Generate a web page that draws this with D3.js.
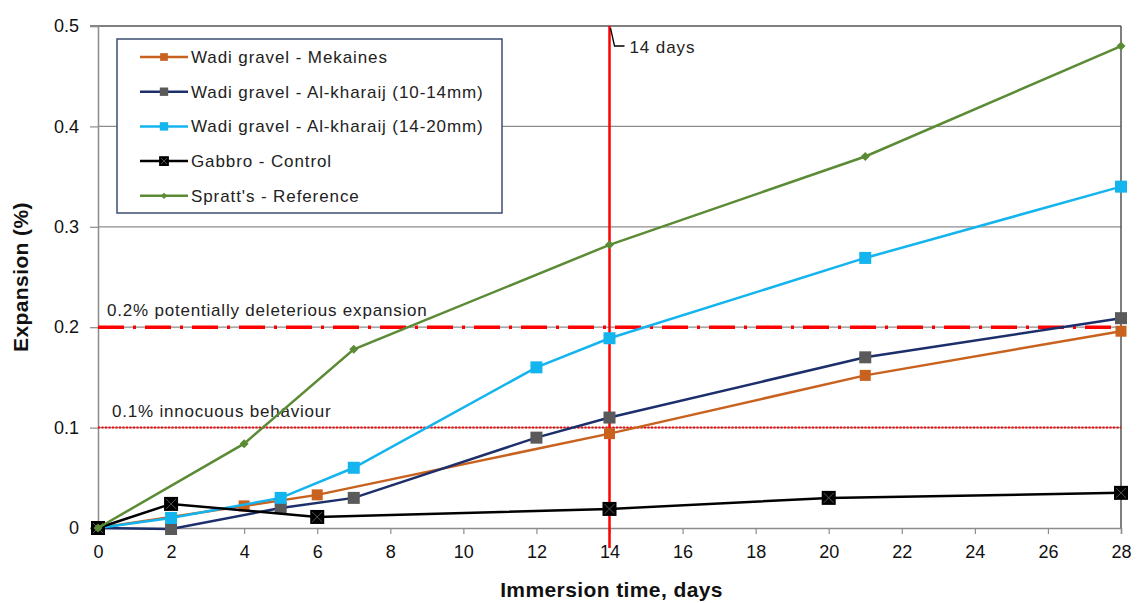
<!DOCTYPE html>
<html>
<head>
<meta charset="utf-8">
<script src="https://cdn.jsdelivr.net/npm/d3@7"></script>
<style>
  body { margin: 0; background: #fff; }
  svg { display: block; font-family: "Liberation Sans", Arial, sans-serif; }
</style>
</head>
<body>
<svg width="1139" height="603"></svg>
<script>
// data
const mekainesDays = [0, 4, 6, 14, 21, 28];
const mekainesVals = [0, 0.022, 0.033, 0.094, 0.152, 0.196];

const kharaij1014Days = [0, 2, 5, 7, 12, 14, 21, 28];
const kharaij1014Vals = [0, -0.001, 0.02, 0.03, 0.09, 0.11, 0.17, 0.209];

const kharaij1420Days = [0, 2, 5, 7, 12, 14, 21, 28];
const kharaij1420Vals = [0, 0.01, 0.03, 0.06, 0.16, 0.189, 0.269, 0.34];

const gabbroDays = [0, 2, 6, 14, 20, 28];
const gabbroVals = [0, 0.024, 0.011, 0.019, 0.03, 0.035];

const sprattDays = [0, 4, 7, 14, 21, 28];
const sprattVals = [0, 0.084, 0.178, 0.282, 0.37, 0.48];

const xTicks = d3.range(0, 29, 2);
const yTicks = [0, 0.1, 0.2, 0.3, 0.4, 0.5];

const series = [
  { name: "Wadi gravel - Mekaines", days: mekainesDays, vals: mekainesVals, line: "#c9621f", marker: "#c9621f", shape: "square", size: 11 },
  { name: "Wadi gravel - Al-kharaij (10-14mm)", days: kharaij1014Days, vals: kharaij1014Vals, line: "#1c2f6b", marker: "#5a5a5a", shape: "square", size: 12 },
  { name: "Wadi gravel - Al-kharaij (14-20mm)", days: kharaij1420Days, vals: kharaij1420Vals, line: "#14b4ee", marker: "#14b4ee", shape: "square", size: 12 },
  { name: "Gabbro - Control", days: gabbroDays, vals: gabbroVals, line: "#000000", marker: "#000000", shape: "squarex", size: 14 },
  { name: "Spratt's - Reference", days: sprattDays, vals: sprattVals, line: "#5b8b35", marker: "#5b8b35", shape: "diamond", size: 9 }
];

const svg = d3.select("svg");
const margin = { left: 98, right: 18, top: 26, bottom: 75 };
const W = 1139, H = 603;

const x = d3.scaleLinear().domain([0, 28]).range([margin.left, W - margin.right]);
const y = d3.scaleLinear().domain([0, 0.5]).range([H - margin.bottom, margin.top]);

// gridlines
svg.append("g").selectAll("line")
  .data(yTicks.filter(v => v > 0 && v < 0.5))
  .enter().append("line")
  .attr("x1", x(0)).attr("x2", x(28))
  .attr("y1", d => y(d)).attr("y2", d => y(d))
  .attr("stroke", "#8c8c8c").attr("stroke-width", 1.2);

// frame top + right
svg.append("line").attr("x1", x(0) - 8).attr("x2", x(28)).attr("y1", y(0.5)).attr("y2", y(0.5))
  .attr("stroke", "#555").attr("stroke-width", 1.5);
svg.append("line").attr("x1", x(28)).attr("x2", x(28)).attr("y1", y(0.5)).attr("y2", y(0))
  .attr("stroke", "#555").attr("stroke-width", 1.5);

// axes
const xAxis = svg.append("g").attr("transform", `translate(0,${y(0)})`)
  .call(d3.axisBottom(x).tickValues(xTicks).tickSize(6).tickPadding(11).tickFormat(d3.format("d")));
const yAxis = svg.append("g").attr("transform", `translate(${x(0)},0)`)
  .call(d3.axisLeft(y).tickValues(yTicks).tickSize(8).tickPadding(11).tickFormat(d => d === 0 ? "0" : d3.format(".1f")(d)));
[xAxis, yAxis].forEach(a => {
  a.select(".domain").attr("stroke", "#8c8c8c").attr("stroke-width", 1.5);
  a.selectAll(".tick line").attr("stroke", "#8c8c8c").attr("stroke-width", 1.2);
  a.selectAll("text").attr("font-size", 18).attr("fill", "#111")
    .attr("font-family", "'Liberation Sans', Arial, sans-serif");
});

// threshold lines
svg.append("line").attr("x1", x(0)).attr("x2", x(28)).attr("y1", y(0.2)).attr("y2", y(0.2))
  .attr("stroke", "#ff0000").attr("stroke-width", 3.5).attr("stroke-dasharray", "26,9,3,9");
svg.append("line").attr("x1", x(0)).attr("x2", x(28)).attr("y1", y(0.1)).attr("y2", y(0.1))
  .attr("stroke", "#ff0000").attr("stroke-width", 2).attr("stroke-dasharray", "2,1.5");
svg.append("line").attr("x1", x(14)).attr("x2", x(14)).attr("y1", y(0.5)).attr("y2", y(0) + 20)
  .attr("stroke", "#ff0000").attr("stroke-width", 2.5);

svg.append("text").attr("x", 107).attr("y", y(0.2) - 11).attr("font-size", 17).attr("letter-spacing", 0.8)
  .attr("fill", "#222").text("0.2% potentially deleterious expansion");
svg.append("text").attr("x", 112).attr("y", y(0.1) - 11).attr("font-size", 17).attr("letter-spacing", 0.8)
  .attr("fill", "#222").text("0.1% innocuous behaviour");

// 14 days callout
svg.append("path")
  .attr("d", `M${x(14) + 1},${y(0.5) + 2} L${x(14) + 5},${y(0.5) + 20} L${x(14) + 15},${y(0.5) + 20}`)
  .attr("fill", "none").attr("stroke", "#000").attr("stroke-width", 1.3);
svg.append("text").attr("x", x(14) + 20).attr("y", y(0.5) + 27).attr("font-size", 17).attr("letter-spacing", 0.9)
  .attr("fill", "#222").text("14 days");

// series
const lineGen = d3.line().x(d => x(d[0])).y(d => y(d[1]));

function drawMarker(g, s, cx, cy, scale) {
  const r = s.size / 2 * scale;
  if (s.shape === "diamond") {
    g.append("path")
      .attr("d", `M${cx},${cy - r} L${cx + r},${cy} L${cx},${cy + r} L${cx - r},${cy} Z`)
      .attr("fill", s.marker);
  } else {
    g.append("rect").attr("x", cx - r).attr("y", cy - r).attr("width", 2 * r).attr("height", 2 * r)
      .attr("fill", s.marker);
    if (s.shape === "squarex") {
      g.append("path")
        .attr("d", `M${cx - r + 2},${cy - r + 2} L${cx + r - 2},${cy + r - 2} M${cx + r - 2},${cy - r + 2} L${cx - r + 2},${cy + r - 2}`)
        .attr("stroke", "#555").attr("stroke-width", 1);
    }
  }
}

series.forEach(s => {
  const pts = s.days.map((d, i) => [d, s.vals[i]]);
  const g = svg.append("g");
  g.append("path").datum(pts).attr("d", lineGen)
    .attr("fill", "none").attr("stroke", s.line).attr("stroke-width", 2.5);
  pts.forEach(p => drawMarker(g, s, x(p[0]), y(p[1]), 1));
});

// legend
const legend = svg.append("g");
legend.append("rect").attr("x", 117).attr("y", 39).attr("width", 385).attr("height", 174)
  .attr("fill", "#fff").attr("stroke", "#3d4d72").attr("stroke-width", 1.5);
series.forEach((s, i) => {
  const ly = 57 + i * 34.7;
  legend.append("line").attr("x1", 140).attr("x2", 188).attr("y1", ly).attr("y2", ly)
    .attr("stroke", s.line).attr("stroke-width", 2.5);
  drawMarker(legend, s, 164, ly, 0.7);
  legend.append("text").attr("x", 191).attr("y", ly + 6).attr("font-size", 17).attr("letter-spacing", 0.9)
    .attr("fill", "#222").text(s.name);
});

// axis titles
svg.append("text").attr("x", x(14) + 2).attr("y", 597).attr("text-anchor", "middle")
  .attr("font-size", 21).attr("font-weight", "bold").attr("letter-spacing", 0.4).attr("fill", "#111")
  .text("Immersion time, days");
svg.append("text").attr("transform", `translate(28,${(y(0) + y(0.5)) / 2}) rotate(-90)`)
  .attr("text-anchor", "middle").attr("font-size", 21).attr("font-weight", "bold").attr("letter-spacing", 0.4)
  .attr("fill", "#111").text("Expansion (%)");
</script>
</body>
</html>
